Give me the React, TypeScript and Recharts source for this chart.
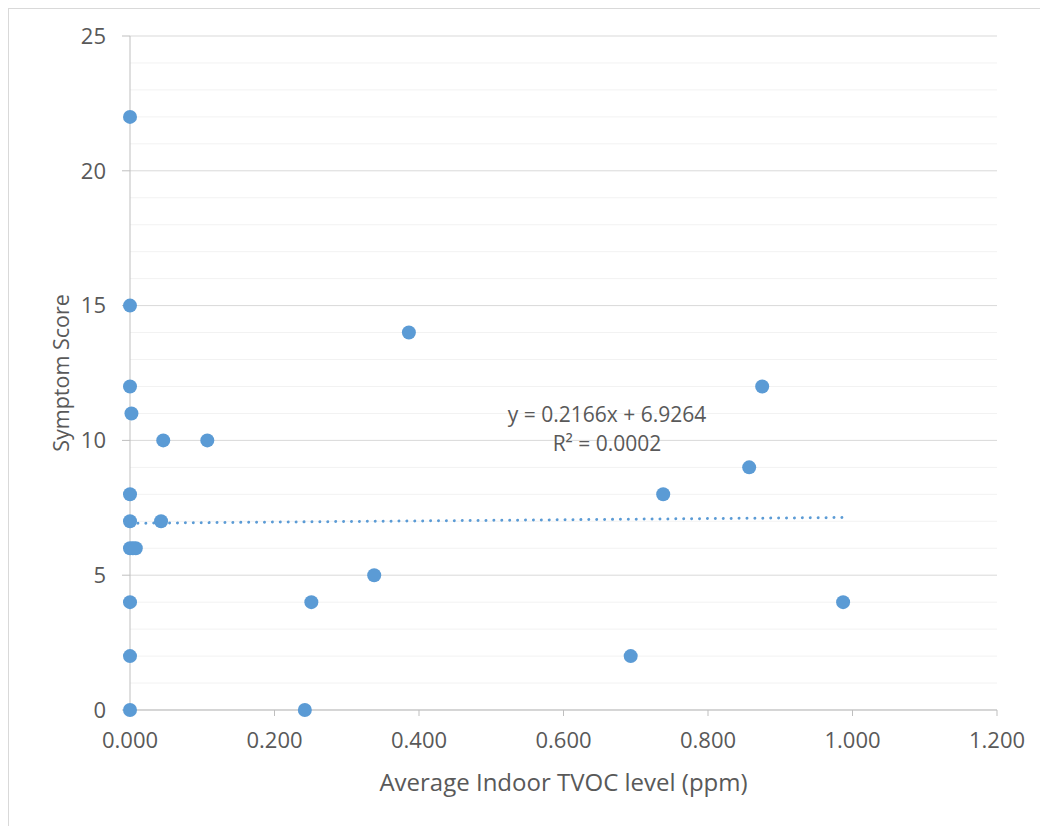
import React from 'react';
import {
  ScatterChart,
  Scatter,
  XAxis,
  YAxis,
  CartesianGrid,
  ReferenceLine,
} from 'recharts';

// TVOC readings (ppm) and symptom scores
const tvocLevels = [
  0, 0, 0, 0.002, 0.046, 0.107, 0, 0, 0.043, 0, 0.004, 0.008,
  0, 0, 0, 0.242, 0.251, 0.338, 0.386, 0.693, 0.738, 0.857, 0.875, 0.987,
];
const symptomScores = [
  22, 15, 12, 11, 10, 10, 8, 7, 7, 6, 6, 6,
  4, 2, 0, 0, 4, 5, 14, 2, 8, 9, 12, 4,
];

const xTicks = [0, 0.2, 0.4, 0.6, 0.8, 1.0, 1.2];
const yTicks = [0, 5, 10, 15, 20, 25];
const yMinor = [1, 2, 3, 4, 6, 7, 8, 9, 11, 12, 13, 14, 16, 17, 18, 19, 21, 22, 23, 24];

// linear trendline shown on the chart
const trendSlope = 0.2166;
const trendIntercept = 6.9264;
const trendRange = [0, 0.987];
const equationLines = ['y = 0.2166x + 6.9264', 'R² = 0.0002'];

const points = tvocLevels.map((x, i) => ({ x, y: symptomScores[i] }));
const trendSegment = trendRange.map((x) => ({ x, y: trendSlope * x + trendIntercept }));

const BLUE = '#5b9bd5';
const TEXT = '#595959';
const FONT = '"Open Sans", sans-serif';

const tickStyle = { fill: TEXT, fontSize: 22, fontFamily: FONT };

export default function App() {
  return (
    <div
      style={{
        position: 'relative',
        width: 1040,
        height: 818,
        borderLeft: '1px solid #d9d9d9',
        borderTop: '1px solid #d9d9d9',
        boxSizing: 'border-box',
        background: '#fff',
      }}
    >
      <ScatterChart width={1039} height={817} margin={{ top: 27, right: 51, left: 0, bottom: 0 }}>
        <CartesianGrid vertical={false} horizontalValues={yMinor} stroke="#f2f2f2" strokeWidth={1} />
        <CartesianGrid vertical={false} horizontalValues={yTicks} stroke="#d9d9d9" strokeWidth={1} />
        <XAxis
          type="number"
          dataKey="x"
          domain={[0, 1.2]}
          ticks={xTicks}
          tickFormatter={(v: number) => v.toFixed(3)}
          height={116}
          tick={tickStyle}
          tickSize={6}
          tickMargin={16}
          axisLine={{ stroke: '#bfbfbf' }}
          tickLine={{ stroke: '#bfbfbf' }}
          label={{
            content: ({ viewBox }: any) => (
              <text
                x={viewBox.x + viewBox.width / 2}
                y={viewBox.y + 71}
                textAnchor="middle"
                dominantBaseline="central"
                fill={TEXT}
                fontSize={24}
                fontFamily={FONT}
              >
                Average Indoor TVOC level (ppm)
              </text>
            ),
          }}
        />
        <YAxis
          type="number"
          dataKey="y"
          domain={[0, 25]}
          ticks={yTicks}
          width={121}
          tick={tickStyle}
          tickSize={8}
          tickMargin={16}
          axisLine={{ stroke: '#bfbfbf' }}
          tickLine={{ stroke: '#bfbfbf' }}
          label={{
            content: ({ viewBox }: any) => {
              const cx = viewBox.x + 51;
              const cy = viewBox.y + viewBox.height / 2;
              return (
                <text
                  x={cx}
                  y={cy}
                  transform={`rotate(-90, ${cx}, ${cy})`}
                  textAnchor="middle"
                  dominantBaseline="central"
                  fill={TEXT}
                  fontSize={21.5}
                  fontFamily={FONT}
                >
                  Symptom Score
                </text>
              );
            },
          }}
        />
        <ReferenceLine
          segment={trendSegment}
          stroke={BLUE}
          strokeWidth={3}
          strokeDasharray="0.01 7.9"
          strokeLinecap="round"
        />
        <Scatter
          data={points}
          fill={BLUE}
          isAnimationActive={false}
          shape={(p: any) => <circle cx={p.cx} cy={p.cy} r={7} fill={BLUE} />}
        />
      </ScatterChart>
      <div
        style={{
          position: 'absolute',
          left: 607 - 9 - 150,
          top: 414 - 9 - 14.5,
          width: 300,
          textAlign: 'center',
          fontFamily: FONT,
          fontSize: 21,
          lineHeight: '29px',
          color: TEXT,
        }}
      >
        {equationLines.map((l) => (
          <div key={l}>{l}</div>
        ))}
      </div>
    </div>
  );
}
